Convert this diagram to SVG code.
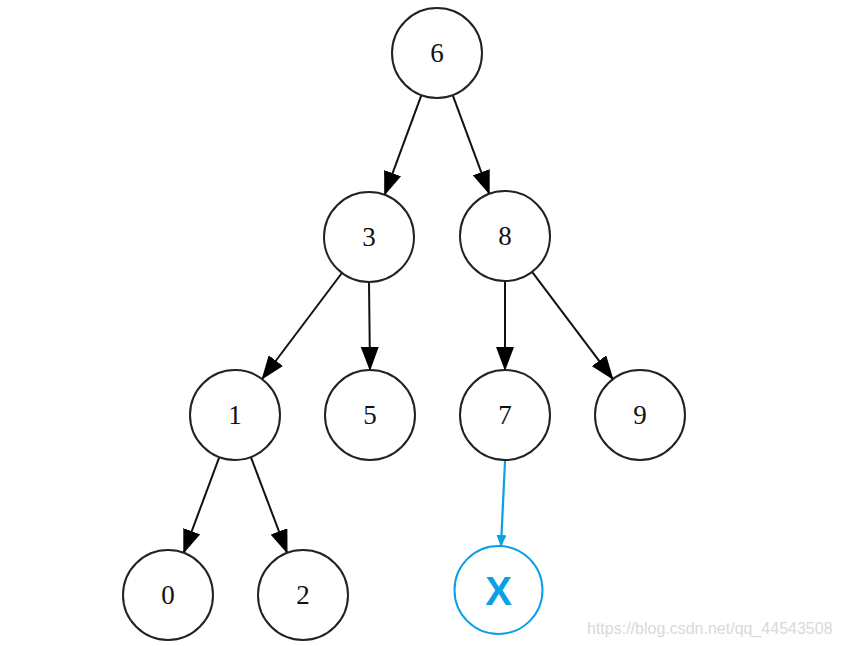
<svg xmlns="http://www.w3.org/2000/svg" width="841" height="646" viewBox="0 0 841 646">
<style>
.n circle{fill:#fff;stroke:#222;stroke-width:2}
.n text{font-family:"Liberation Serif","Times New Roman",serif;font-size:27px;fill:#111;text-anchor:middle}
.e{stroke:#111;stroke-width:2;fill:none;marker-end:url(#ah)}
.b{stroke:#0aa0e6;stroke-width:2.2;fill:none;marker-end:url(#bh)}
</style>
<defs>
<marker id="ah" viewBox="0 0 24 18" markerWidth="24" markerHeight="18" refX="23" refY="9" orient="auto" markerUnits="userSpaceOnUse"><path d="M0,0 L24,9 L0,18 z" fill="#000"/></marker>
<marker id="bh" viewBox="0 0 12 10" markerWidth="12" markerHeight="10" refX="11" refY="5" orient="auto" markerUnits="userSpaceOnUse"><path d="M0,0 L12,5 L0,10 z" fill="#0aa0e6"/></marker>
</defs>
<rect width="841" height="646" fill="#fff"/>
<g id="edges">
<line class="e" x1="421.4" y1="95.2" x2="384.6" y2="194.8"/>
<line class="e" x1="452.7" y1="95.2" x2="489.3" y2="193.8"/>
<line class="e" x1="341.9" y1="273" x2="262.1" y2="379"/>
<line class="e" x1="369" y1="282" x2="370" y2="370"/>
<line class="e" x1="505" y1="281" x2="505" y2="370"/>
<line class="e" x1="532.1" y1="271.9" x2="612.9" y2="379.1"/>
<line class="e" x1="219.3" y1="457.2" x2="183.7" y2="552.8"/>
<line class="e" x1="250.9" y1="457.1" x2="287.1" y2="552.9"/>
<line class="b" x1="505" y1="461" x2="501" y2="546"/>
</g>
<g id="n6" class="n"><circle cx="437" cy="53" r="45"/><text x="437" y="62">6</text></g>
<g id="n3" class="n"><circle cx="369" cy="237" r="45"/><text x="369" y="246">3</text></g>
<g id="n8" class="n"><circle cx="505" cy="236" r="45"/><text x="505" y="245">8</text></g>
<g id="n1" class="n"><circle cx="235" cy="415" r="45"/><text x="235" y="424">1</text></g>
<g id="n5" class="n"><circle cx="370" cy="415" r="45"/><text x="370" y="424">5</text></g>
<g id="n7" class="n"><circle cx="505" cy="415" r="45"/><text x="505" y="424">7</text></g>
<g id="n9" class="n"><circle cx="640" cy="415" r="45"/><text x="640" y="424">9</text></g>
<g id="n0" class="n"><circle cx="168" cy="595" r="45"/><text x="168" y="604">0</text></g>
<g id="n2" class="n"><circle cx="303" cy="595" r="45"/><text x="303" y="604">2</text></g>
<g id="nX"><circle cx="498.5" cy="590" r="44" fill="#fff" stroke="#0aa0e6" stroke-width="2"/><text x="498.5" y="605" font-family="Liberation Sans,Arial,sans-serif" font-weight="bold" font-size="40" fill="#0aa0e6" text-anchor="middle">X</text></g>
<text x="587" y="634" font-family="Liberation Sans,Arial,sans-serif" font-size="16" fill="#d9d9d9">https://blog.csdn.net/qq_44543508</text>
</svg>
